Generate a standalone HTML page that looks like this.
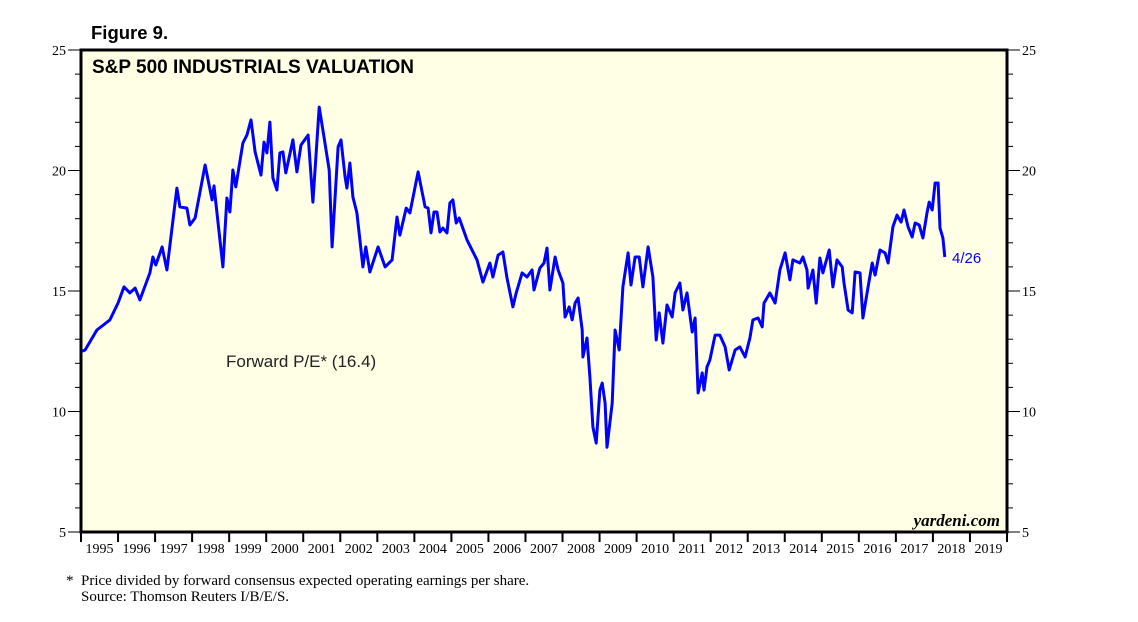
<!DOCTYPE html>
<html><head><meta charset="utf-8">
<style>
body{margin:0;background:#fff;}
svg{display:block;}
</style></head>
<body>
<svg id="chart" width="1138" height="622" xmlns="http://www.w3.org/2000/svg">
<text x="91" y="39" font-family="Liberation Sans, sans-serif" font-weight="bold" font-size="18.5">Figure 9.</text>
<rect x="81" y="50" width="926" height="482" fill="#FFFFE6" stroke="#000" stroke-width="3"/>
<text x="92" y="73" font-family="Liberation Sans, sans-serif" font-weight="bold" font-size="19">S&amp;P 500 INDUSTRIALS VALUATION</text>
<g id="axes"></g>
<path id="line" fill="none" stroke="#0000FF" stroke-width="3" stroke-linejoin="round"/>
<text x="226" y="367" font-family="Liberation Sans, sans-serif" font-size="17" fill="#222">Forward P/E* (16.4)</text>
<text x="952" y="263" font-family="Liberation Sans, sans-serif" font-size="15" fill="#0000FF">4/26</text>
<text x="1000" y="526" text-anchor="end" font-family="Liberation Serif, serif" font-style="italic" font-weight="bold" font-size="17">yardeni.com</text>
<text x="66" y="585" font-family="Liberation Serif, serif" font-size="15">*</text>
<text x="81" y="585" font-family="Liberation Serif, serif" font-size="15">Price divided by forward consensus expected operating earnings per share.</text>
<text x="81" y="601" font-family="Liberation Serif, serif" font-size="15">Source: Thomson Reuters I/B/E/S.</text>
</svg>
<script>
const years = [1995.02,1995.11,1995.43,1995.78,1996.00,1996.16,1996.32,1996.46,1996.59,1996.86,1996.94,1997.02,1997.19,1997.32,1997.59,1997.67,1997.86,1997.94,1998.08,1998.35,1998.54,1998.59,1998.83,1998.94,1999.02,1999.10,1999.18,1999.37,1999.48,1999.59,1999.70,1999.86,1999.94,2000.02,2000.10,2000.18,2000.29,2000.37,2000.45,2000.53,2000.72,2000.83,2000.94,2001.13,2001.26,2001.43,2001.56,2001.70,2001.78,2001.94,2002.02,2002.13,2002.18,2002.26,2002.34,2002.45,2002.61,2002.69,2002.80,2003.02,2003.21,2003.40,2003.53,2003.61,2003.78,2003.88,2004.10,2004.29,2004.37,2004.45,2004.53,2004.61,2004.69,2004.77,2004.88,2004.96,2005.04,2005.13,2005.21,2005.42,2005.69,2005.85,2006.04,2006.12,2006.26,2006.39,2006.50,2006.66,2006.75,2006.91,2007.04,2007.18,2007.23,2007.39,2007.50,2007.58,2007.66,2007.80,2007.88,2008.01,2008.07,2008.18,2008.26,2008.34,2008.42,2008.53,2008.55,2008.66,2008.74,2008.82,2008.91,2009.01,2009.07,2009.15,2009.20,2009.34,2009.42,2009.53,2009.63,2009.77,2009.85,2009.96,2010.07,2010.17,2010.31,2010.44,2010.53,2010.61,2010.71,2010.82,2010.96,2011.04,2011.17,2011.25,2011.36,2011.50,2011.58,2011.66,2011.77,2011.82,2011.90,2011.98,2012.12,2012.25,2012.39,2012.50,2012.66,2012.79,2012.93,2013.06,2013.14,2013.28,2013.39,2013.44,2013.60,2013.74,2013.87,2014.01,2014.14,2014.22,2014.41,2014.49,2014.60,2014.63,2014.76,2014.85,2014.95,2015.03,2015.20,2015.30,2015.41,2015.55,2015.60,2015.71,2015.82,2015.90,2016.03,2016.11,2016.25,2016.36,2016.44,2016.57,2016.71,2016.79,2016.92,2017.03,2017.14,2017.22,2017.33,2017.44,2017.52,2017.63,2017.73,2017.84,2017.90,2017.98,2018.06,2018.14,2018.19,2018.27,2018.32];
const peValues = [12.5,12.55,13.38,13.80,14.50,15.17,14.92,15.12,14.63,15.75,16.41,16.08,16.83,15.87,19.27,18.49,18.44,17.74,18.03,20.23,18.78,19.36,16.00,18.86,18.28,20.02,19.32,21.14,21.47,22.10,20.77,19.81,21.18,20.73,22.01,19.69,19.19,20.73,20.77,19.90,21.27,19.94,21.06,21.47,18.69,22.63,21.39,20.02,16.83,20.98,21.27,19.73,19.27,20.31,18.90,18.24,16.00,16.83,15.79,16.83,16.00,16.29,18.07,17.32,18.44,18.24,19.94,18.49,18.44,17.41,18.28,18.28,17.45,17.61,17.41,18.65,18.78,17.82,18.03,17.12,16.29,15.37,16.16,15.58,16.49,16.62,15.54,14.34,14.92,15.75,15.58,15.87,15.04,15.95,16.16,16.78,15.04,16.41,15.87,15.33,13.92,14.34,13.80,14.50,14.71,13.38,12.26,13.05,11.43,9.36,8.69,10.89,11.18,10.35,8.52,10.35,13.38,12.55,15.17,16.58,15.25,16.41,16.41,15.17,16.83,15.58,12.97,14.09,12.84,14.42,13.92,14.92,15.33,14.21,14.92,13.30,13.88,10.77,11.60,10.89,11.85,12.14,13.17,13.17,12.68,11.72,12.55,12.68,12.26,13.05,13.80,13.88,13.51,14.50,14.92,14.50,15.87,16.58,15.46,16.29,16.16,16.41,15.87,15.12,15.87,14.50,16.37,15.75,16.70,15.17,16.29,16.00,15.33,14.21,14.09,15.79,15.75,13.88,15.17,16.16,15.66,16.70,16.58,16.16,17.66,18.15,17.86,18.36,17.66,17.24,17.82,17.74,17.20,18.24,18.69,18.36,19.48,19.48,17.61,17.20,16.41];
const yTicks = [5,10,15,20,25];
const yearLabels = ["1995","1996","1997","1998","1999","2000","2001","2002","2003","2004","2005","2006","2007","2008","2009","2010","2011","2012","2013","2014","2015","2016","2017","2018","2019"];

const X0=81, X1=1007, Y0=532, Y1=50, YR0=1995, YR1=2020, V0=5, V1=25;
function xs(yr){return X0+(yr-YR0)/(YR1-YR0)*(X1-X0);}
function ys(v){return Y0-(v-V0)/(V1-V0)*(Y0-Y1);}
const NS="http://www.w3.org/2000/svg";
const axes=document.getElementById('axes');
function mk(tag,attrs){const e=document.createElementNS(NS,tag);for(const k in attrs)e.setAttribute(k,attrs[k]);axes.appendChild(e);return e;}
for(let v=V0;v<=V1;v++){
  const major = yTicks.indexOf(v)>=0;
  const y=ys(v);
  const l=mk('line',{x1:X0-(major?13:6),x2:X0,y1:y,y2:y,stroke:'#000','stroke-width':1});
  
  
  const r=mk('line',{x1:X1,x2:X1+(major?13:6),y1:y,y2:y,stroke:'#000','stroke-width':1});
  
  
}
yTicks.forEach(v=>{
  const t=mk('text',{x:X0-15,y:ys(v)+5,'text-anchor':'end','font-family':'Liberation Serif, serif','font-size':14});
  t.textContent=v;
  
  
  const t2=mk('text',{x:X1+15,y:ys(v)+5,'font-family':'Liberation Serif, serif','font-size':14});
  t2.textContent=v;
  
  
});
yearLabels.forEach((lab,i)=>{
  const x=xs(YR0+i);
  const tk=mk('line',{x1:x,x2:x,y1:Y0,y2:Y0+10,stroke:'#000','stroke-width':2});
  
  
  const t=mk('text',{x:x+18.5,y:Y0+21,'text-anchor':'middle','font-family':'Liberation Serif, serif','font-size':14});
  t.textContent=lab;
  
  
});
const tkEnd=mk('line',{x1:X1,x2:X1,y1:Y0,y2:Y0+10,stroke:'#000','stroke-width':2});


let d='';
years.forEach((yr,i)=>{d+=(i?'L':'M')+xs(yr).toFixed(1)+','+ys(peValues[i]).toFixed(1);});
document.getElementById('line').setAttribute('d',d);
</script>
</body></html>
